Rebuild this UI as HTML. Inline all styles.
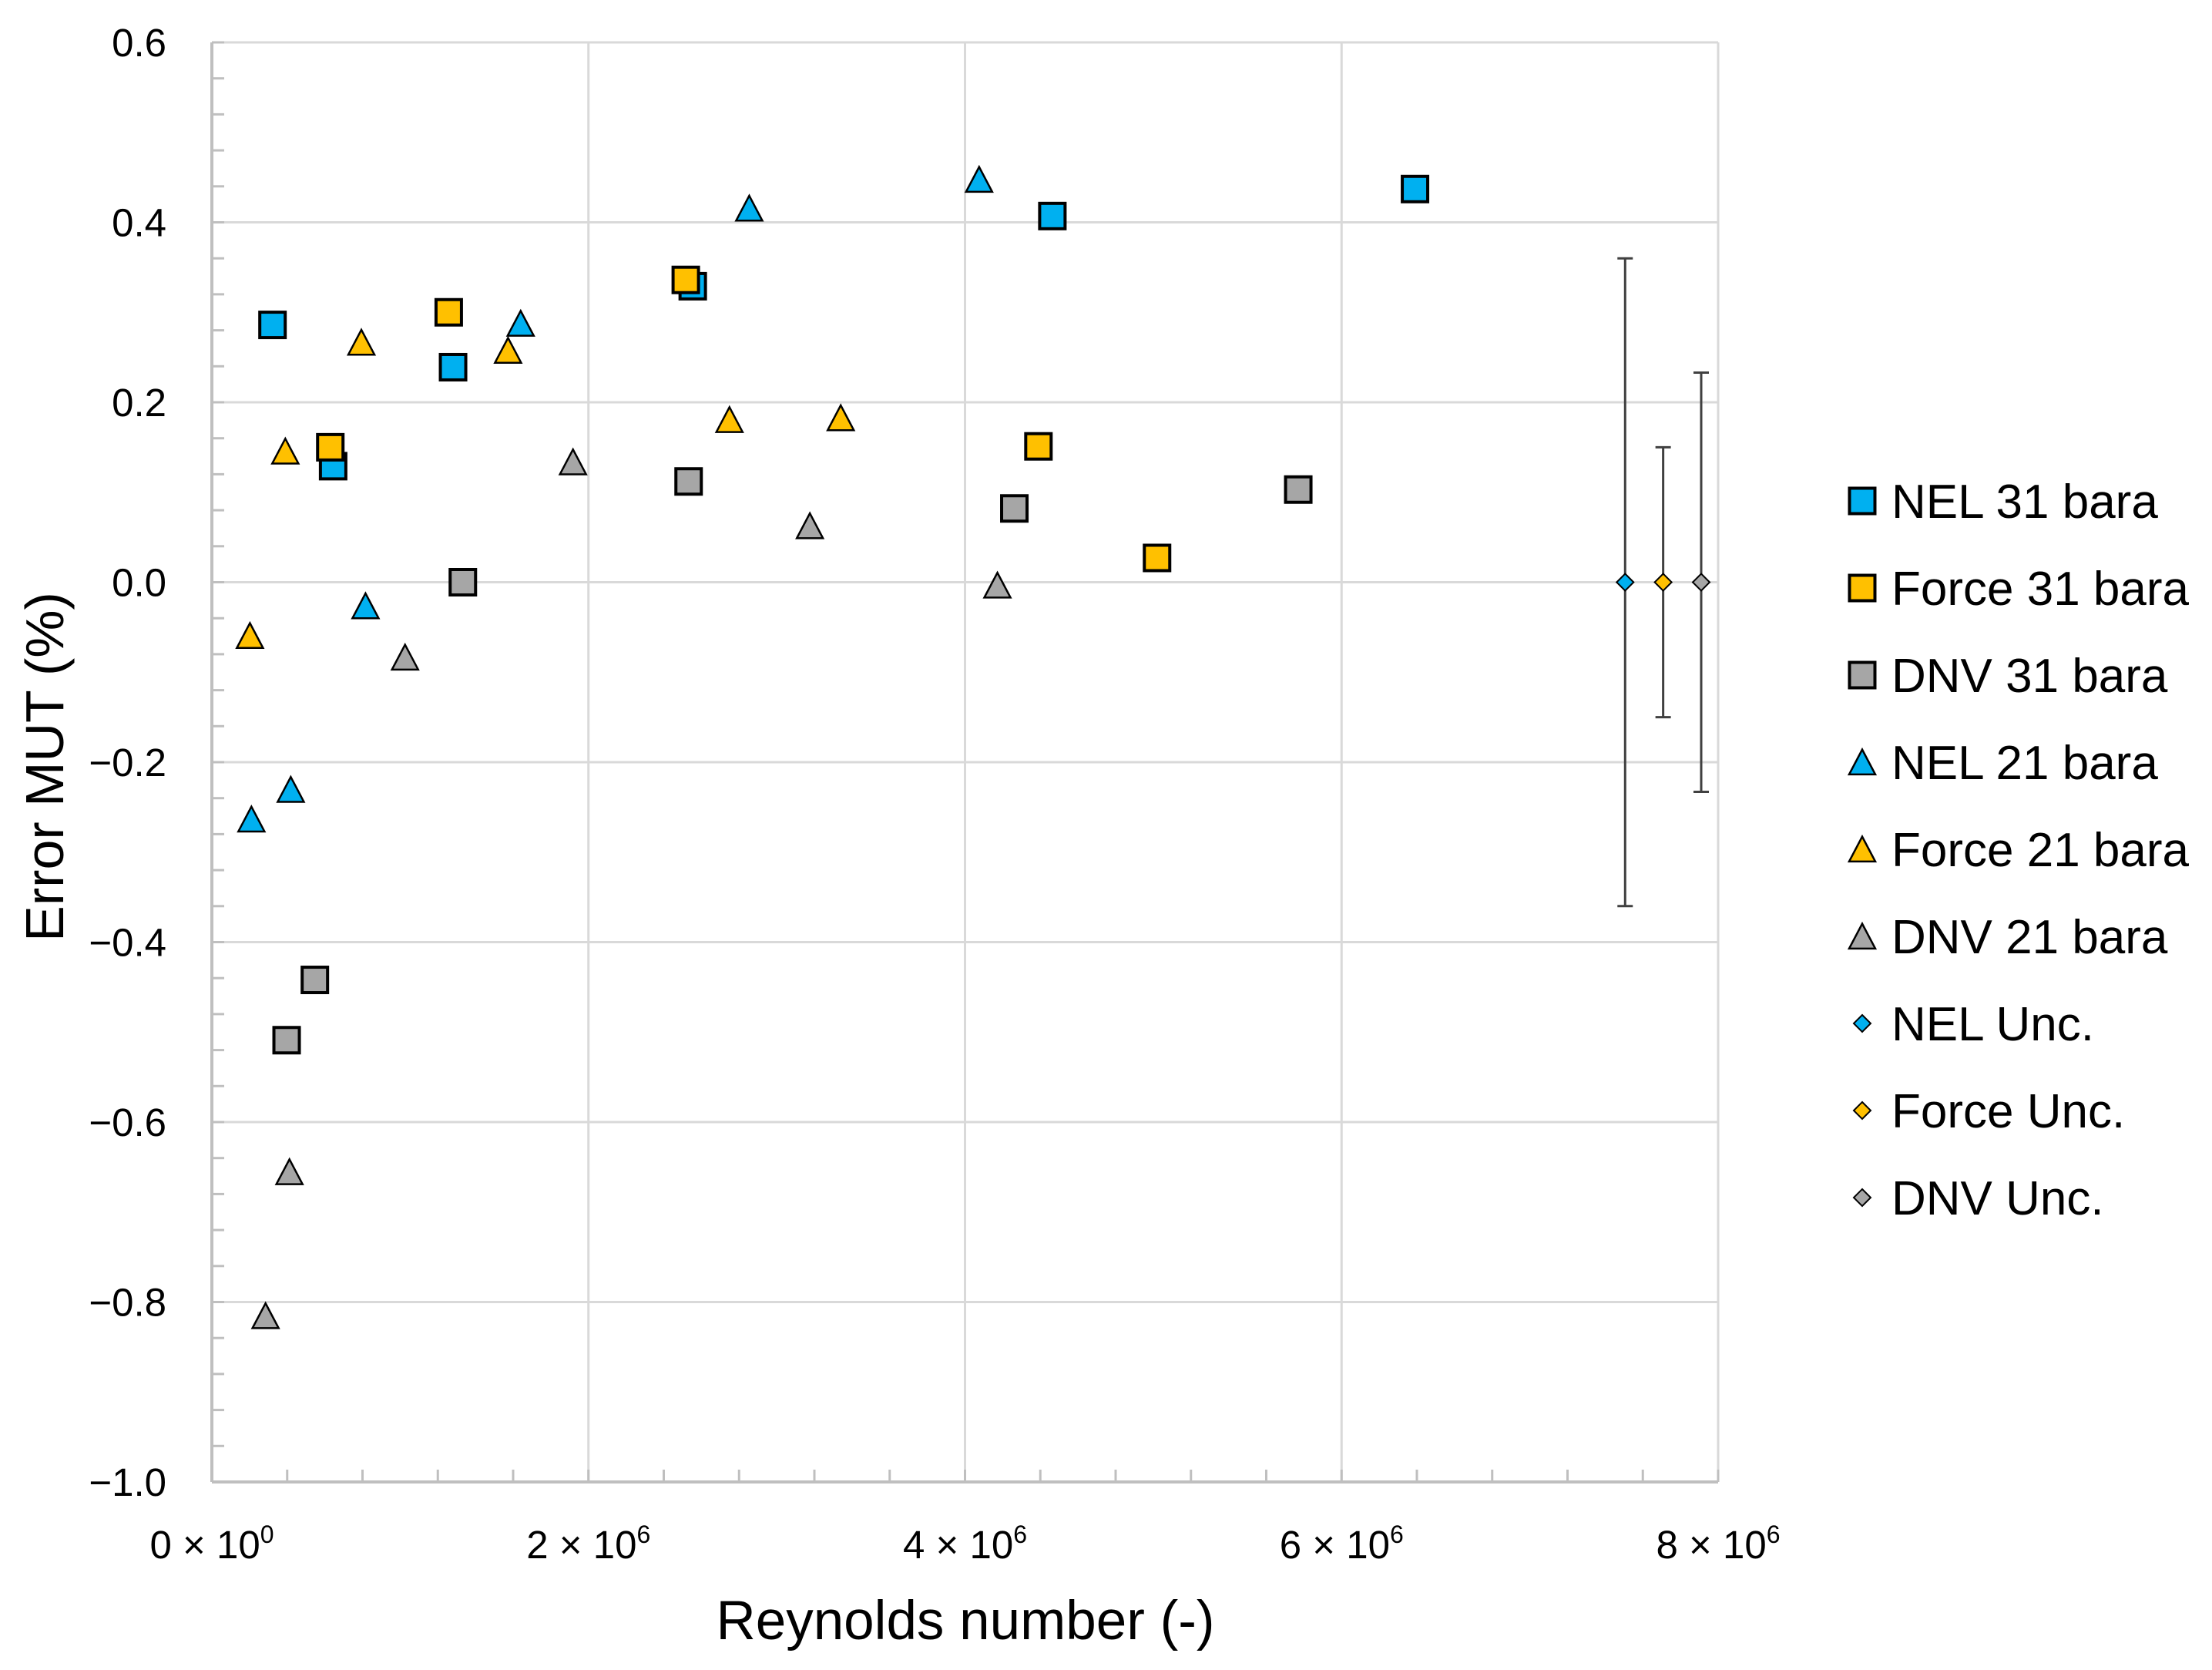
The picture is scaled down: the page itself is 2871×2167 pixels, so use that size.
<!DOCTYPE html>
<html><head><meta charset="utf-8"><style>
html,body{margin:0;padding:0;background:#fff;}
svg{display:block;font-family:"Liberation Sans",sans-serif;}
</style></head><body>
<svg id="chart" width="2871" height="2167" viewBox="0 0 2871 2167" xmlns="http://www.w3.org/2000/svg"></svg>
<script>
// ---- data (x in units of 1e6 Reynolds, y in % error) ----
const nel31X = [0.322, 0.644, 1.281, 2.554, 4.464, 6.39];
const nel31Y = [0.286, 0.129, 0.239, 0.329, 0.407, 0.437];
const force31X = [0.629, 1.258, 2.517, 4.39, 5.02];
const force31Y = [0.150, 0.300, 0.336, 0.151, 0.027];
const dnv31X = [1.333, 2.532, 4.262, 5.77, 0.547, 0.397];
const dnv31Y = [0.0, 0.112, 0.082, 0.103, -0.442, -0.509];
const nel21X = [0.21, 0.419, 0.816, 1.64, 2.854, 4.075];
const nel21Y = [-0.266, -0.233, -0.029, 0.285, 0.413, 0.445];
const force21X = [0.202, 0.39, 0.794, 1.573, 2.749, 3.34];
const force21Y = [-0.062, 0.143, 0.264, 0.255, 0.178, 0.180];
const dnv21X = [0.285, 0.412, 1.026, 1.918, 3.176, 4.172];
const dnv21Y = [-0.818, -0.658, -0.086, 0.131, 0.060, -0.006];
const uncX = [7.506, 7.708, 7.91];
const uncY = [0, 0, 0];
const uncErr = [0.36, 0.15, 0.233];
const yTicks = [0.6, 0.4, 0.2, 0.0, -0.2, -0.4, -0.6, -0.8, -1.0];
const yTickLabels = ["0.6","0.4","0.2","0.0","\u22120.2","\u22120.4","\u22120.6","\u22120.8","\u22121.0"];
const xTicks = [0, 2, 4, 6, 8];
const xTickMant = ["0","2","4","6","8"];
const xTickExp = ["0","6","6","6","6"];

const NS = "http://www.w3.org/2000/svg";
const svg = document.getElementById('chart');
const L = 275, R = 2230, T = 55, B = 1923;
const xMin = 0, xMax = 8, yMin = -1.0, yMax = 0.6;
function sx(v){ return L + (v - xMin) / (xMax - xMin) * (R - L); }
function sy(v){ return B - (v - yMin) / (yMax - yMin) * (B - T); }
function mk(tag, attrs, parent){
  const e = document.createElementNS(NS, tag);
  for (const k in attrs) e.setAttribute(k, attrs[k]);
  (parent || svg).appendChild(e);
  return e;
}
const BLUE = "#00B0F0", GOLD = "#FFC000", GREY = "#A6A6A6";

const grid = mk('g', {});


yTicks.forEach(v => {
  const l = mk('line', {x1: L, x2: R, y1: sy(v), y2: sy(v), stroke: "#d9d9d9", "stroke-width": 3}, grid);
  
  
});
xTicks.forEach(v => {
  const l = mk('line', {x1: sx(v), x2: sx(v), y1: T, y2: B, stroke: "#d9d9d9", "stroke-width": 3}, grid);
  
  
});
const ticks = mk('g', {stroke: "#bfbfbf", "stroke-width": 3});


for (let i = 0; i <= 40; i++) {
  const v = yMin + i * 0.04;
  mk('line', {x1: L, x2: L + 16, y1: sy(v), y2: sy(v)}, ticks);
}
for (let i = 0; i <= 20; i++) {
  const v = i * 0.4;
  mk('line', {x1: sx(v), x2: sx(v), y1: B, y2: B - 16}, ticks);
}
const yAxis = mk('line', {x1: L, x2: L, y1: T, y2: B, stroke: "#bfbfbf", "stroke-width": 4});


const xAxis = mk('line', {x1: L, x2: R, y1: B, y2: B, stroke: "#bfbfbf", "stroke-width": 4});



yTicks.forEach((v, i) => {
  const t = mk('text', {x: 216, y: sy(v) + 18, "text-anchor": "end", "font-size": 51, fill: "#000"});
  t.textContent = yTickLabels[i];
  
  
});
xTicks.forEach((v, i) => {
  const t = mk('text', {x: sx(v), y: 2022, "text-anchor": "middle", "font-size": 51, fill: "#000"});
  
  
  const a = mk('tspan', {}, t); a.textContent = xTickMant[i] + " \u00d7 10";
  const b = mk('tspan', {dy: -20, "font-size": 32}, t); b.textContent = xTickExp[i];
});

const xt = mk('text', {x: 1253, y: 2127, "text-anchor": "middle", "font-size": 71, fill: "#000"});
xt.textContent = "Reynolds number (-)";


const yt = mk('text', {x: 0, y: 0, "text-anchor": "middle", "font-size": 70, fill: "#000", transform: "translate(82,995) rotate(-90)"});
yt.textContent = "Error MUT (%)";



function square(cx, cy, fill, s, parent){
  return mk('rect', {x: cx - s/2, y: cy - s/2, width: s, height: s, fill: fill, stroke: "#000", "stroke-width": 4}, parent);
}
function tri(cx, cy, fill, s, parent){
  const h = s * 0.95;
  return mk('polygon', {points: `${cx},${cy - h*0.6} ${cx + s/2},${cy + h*0.4} ${cx - s/2},${cy + h*0.4}`, fill: fill, stroke: "#000", "stroke-width": 2.5}, parent);
}
function diamond(cx, cy, fill, s, parent){
  return mk('polygon', {points: `${cx},${cy - s/2} ${cx + s/2},${cy} ${cx},${cy + s/2} ${cx - s/2},${cy}`, fill: fill, stroke: "#000", "stroke-width": 2}, parent);
}
function series(name, xs, ys, shape, fill){
  const g = mk('g', {});
  
  
  xs.forEach((x, i) => {
    let m;
    if (shape === 's') m = square(sx(x), sy(ys[i]), fill, 33, g);
    else m = tri(sx(x), sy(ys[i]), fill, 34, g);
    
    
  });
}
series('dnv-21-bara', dnv21X, dnv21Y, 't', GREY);
series('force-21-bara', force21X, force21Y, 't', GOLD);
series('nel-21-bara', nel21X, nel21Y, 't', BLUE);
series('dnv-31-bara', dnv31X, dnv31Y, 's', GREY);
series('nel-31-bara', nel31X, nel31Y, 's', BLUE);
series('force-31-bara', force31X, force31Y, 's', GOLD);

const uncFills = [BLUE, GOLD, GREY];
const uncNames = ['nel-unc', 'force-unc', 'dnv-unc'];
uncX.forEach((x, i) => {
  const g = mk('g', {});
  
  
  const cx = sx(x), top = sy(uncY[i] + uncErr[i]), bot = sy(uncY[i] - uncErr[i]);
  mk('line', {x1: cx, x2: cx, y1: top, y2: bot, stroke: "#404040", "stroke-width": 3}, g);
  mk('line', {x1: cx - 10, x2: cx + 10, y1: top, y2: top, stroke: "#404040", "stroke-width": 3}, g);
  mk('line', {x1: cx - 10, x2: cx + 10, y1: bot, y2: bot, stroke: "#404040", "stroke-width": 3}, g);
  const d = diamond(cx, sy(uncY[i]), uncFills[i], 22, g);
  
  
});

const legendLabels = ["NEL 31 bara","Force 31 bara","DNV 31 bara","NEL 21 bara","Force 21 bara","DNV 21 bara","NEL Unc.","Force Unc.","DNV Unc."];
const legendShapes = ['s','s','s','t','t','t','d','d','d'];
const legendFills = [BLUE, GOLD, GREY, BLUE, GOLD, GREY, BLUE, GOLD, GREY];
const lg = mk('g', {});


legendLabels.forEach((lab, i) => {
  const cy = 650 + i * 113;
  const e = mk('g', {}, lg);
  
  
  if (legendShapes[i] === 's') square(2417, cy, legendFills[i], 33, e);
  else if (legendShapes[i] === 't') tri(2417, cy + 3, legendFills[i], 34, e);
  else diamond(2417, cy, legendFills[i], 22, e);
  const t = mk('text', {x: 2455, y: cy + 22, "font-size": 62, fill: "#000"}, e);
  t.textContent = lab;
});
</script>
</body></html>
